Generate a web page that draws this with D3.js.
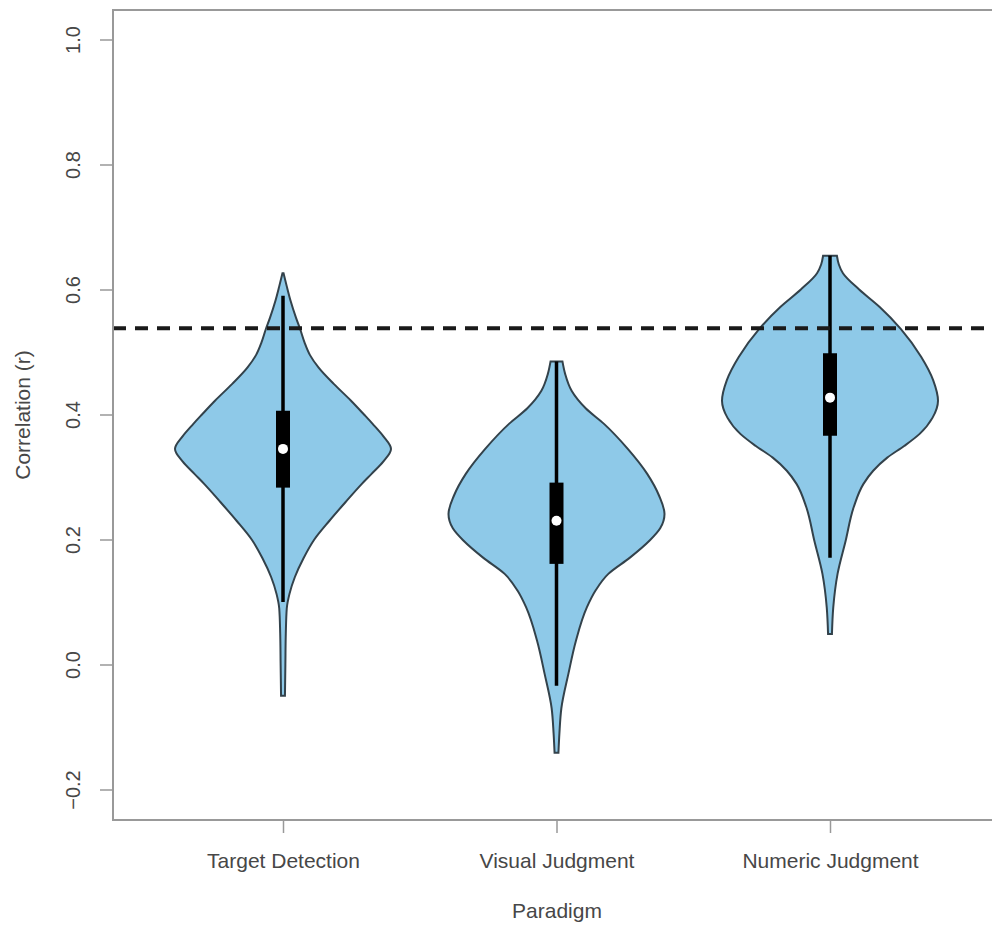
<!DOCTYPE html>
<html>
<head>
<meta charset="utf-8">
<script src="https://cdn.jsdelivr.net/npm/d3@7"></script>
<style>
  body { margin: 0; background: #fff; }
  svg text { font-family: "Liberation Sans", Arial, sans-serif; fill: #474747; }
</style>
</head>
<body>
<div id="container"></div>
<script>
const categories = ["Target Detection", "Visual Judgment", "Numeric Judgment"];
const yTicks = [-0.2, 0.0, 0.2, 0.4, 0.6, 0.8, 1.0];
const referenceR = 0.538;

// density profiles: [correlation, relative density]
const densityTarget = [
    [0.626, 0.005], [0.605, 0.035], [0.582, 0.07], [0.555, 0.12], [0.536, 0.16],
    [0.515, 0.2], [0.495, 0.25], [0.475, 0.33], [0.449, 0.47], [0.422, 0.63],
    [0.40, 0.75], [0.385, 0.83], [0.365, 0.93], [0.345, 1.0], [0.325, 0.93],
    [0.305, 0.82], [0.289, 0.73], [0.26, 0.58], [0.23, 0.43], [0.2, 0.29],
    [0.17, 0.19], [0.14, 0.11], [0.113, 0.06], [0.09, 0.035], [0.05, 0.026],
    [0.0, 0.022], [-0.05, 0.018]
];
const densityVisual = [
    [0.485, 0.055], [0.465, 0.08], [0.438, 0.14], [0.41, 0.27], [0.385, 0.44],
    [0.345, 0.66], [0.305, 0.84], [0.27, 0.95], [0.241, 1.0], [0.218, 0.96],
    [0.198, 0.86], [0.171, 0.68], [0.145, 0.48], [0.118, 0.36], [0.091, 0.28],
    [0.038, 0.18], [-0.015, 0.11], [-0.07, 0.045], [-0.11, 0.027], [-0.141, 0.018]
];
const densityNumeric = [
    [0.654, 0.064], [0.64, 0.082], [0.626, 0.12], [0.6, 0.27], [0.572, 0.46],
    [0.537, 0.655], [0.492, 0.845], [0.455, 0.955], [0.422, 1.0], [0.395, 0.95],
    [0.369, 0.83], [0.35, 0.69], [0.331, 0.53], [0.31, 0.4], [0.289, 0.31],
    [0.252, 0.22], [0.198, 0.145], [0.145, 0.07], [0.091, 0.03], [0.049, 0.018]
];
const densities = [densityTarget, densityVisual, densityNumeric];

// boxplot summaries
const whiskerLo = [0.10, -0.034, 0.171];
const whiskerHi = [0.59, 0.485, 0.654];
const q1 = [0.283, 0.161, 0.366];
const q3 = [0.406, 0.291, 0.498];
const medians = [0.345, 0.23, 0.427];

const config = {
    width: 992,
    height: 932,
    boxLeft: 113,
    boxRight: 1000,
    boxTop: 10,
    boxBottom: 820,
}

const svg = d3.select('#container')
    .append('svg')
    .attr('width', config.width)
    .attr('height', config.height)

const xScale = d3.scalePoint()
    .domain(categories)
    .range([283, 830])

const yScale = d3.scaleLinear()
    .domain([-0.2, 1.0])
    .range([789.5, 39.5])

const widthScale = d3.scaleLinear()
    .domain([0, 1])
    .range([0, 108])

const data = categories.map((c, i) => ({
    category: c,
    density: densities[i],
    lo: whiskerLo[i], hi: whiskerHi[i],
    q1: q1[i], q3: q3[i], median: medians[i]
}));

// violins
const violin = (cx) => d3.area()
    .y(d => yScale(d[0]))
    .x0(d => cx - widthScale(d[1]))
    .x1(d => cx + widthScale(d[1]))
    .curve(d3.curveMonotoneY);

const groups = svg.append('g').attr('class', 'violins')
    .selectAll('g')
    .data(data)
    .join('g')

groups.append('path')
    .attr('d', d => violin(xScale(d.category))(d.density))
    .attr('fill', '#8ec9e8')
    .attr('stroke', '#33424b')
    .attr('stroke-width', 2)

groups.append('line')
    .attr('x1', d => xScale(d.category))
    .attr('x2', d => xScale(d.category))
    .attr('y1', d => yScale(d.hi))
    .attr('y2', d => yScale(d.lo))
    .attr('stroke', '#000')
    .attr('stroke-width', 3.5)

groups.append('rect')
    .attr('x', d => xScale(d.category) - 7)
    .attr('width', 14)
    .attr('y', d => yScale(d.q3))
    .attr('height', d => yScale(d.q1) - yScale(d.q3))
    .attr('fill', '#000')

groups.append('circle')
    .attr('cx', d => xScale(d.category))
    .attr('cy', d => yScale(d.median))
    .attr('r', 5)
    .attr('fill', '#fff')

// reference line
svg.append('line')
    .attr('x1', config.boxLeft)
    .attr('x2', config.boxRight)
    .attr('y1', yScale(referenceR))
    .attr('y2', yScale(referenceR))
    .attr('stroke', '#1a1a1a')
    .attr('stroke-width', 4)
    .attr('stroke-dasharray', '13,9')

// frame
svg.append('rect')
    .attr('x', config.boxLeft)
    .attr('y', config.boxTop)
    .attr('width', config.boxRight - config.boxLeft)
    .attr('height', config.boxBottom - config.boxTop)
    .attr('fill', 'none')
    .attr('stroke', '#999')
    .attr('stroke-width', 2)

// y axis
const yAxis = svg.append('g')
    .attr('class', 'y-axis')
    .attr('transform', `translate(${config.boxLeft},0)`)
    .call(d3.axisLeft(yScale).tickValues(yTicks).tickSize(13).tickFormat(d3.format('.1f')))

yAxis.select('.domain').remove()
yAxis.selectAll('.tick line').attr('stroke', '#999').attr('stroke-width', 1.5)
yAxis.selectAll('.tick text')
    .attr('x', null).attr('dy', null)
    .attr('transform', 'translate(-33,0) rotate(-90)')
    .attr('text-anchor', 'middle')
    .text(d => d3.format('.1f')(d).replace('-', '\u2212'))
    .style('font-size', '20px')

// x axis
const xAxis = svg.append('g')
    .attr('class', 'x-axis')
    .attr('transform', `translate(0,${config.boxBottom})`)
    .call(d3.axisBottom(xScale).tickSize(13))

xAxis.select('.domain').remove()
xAxis.selectAll('.tick line').attr('stroke', '#999').attr('stroke-width', 1.5)
xAxis.selectAll('.tick text')
    .attr('y', 48).attr('dy', null)
    .style('font-size', '21px')

svg.append('text')
    .attr('text-anchor', 'middle')
    .attr('x', 557)
    .attr('y', 918)
    .text('Paradigm')
    .style('font-size', '21px')

svg.append('text')
    .attr('text-anchor', 'middle')
    .attr('transform', 'translate(30,415) rotate(-90)')
    .text('Correlation (r)')
    .style('font-size', '21px')
</script>
</body>
</html>
